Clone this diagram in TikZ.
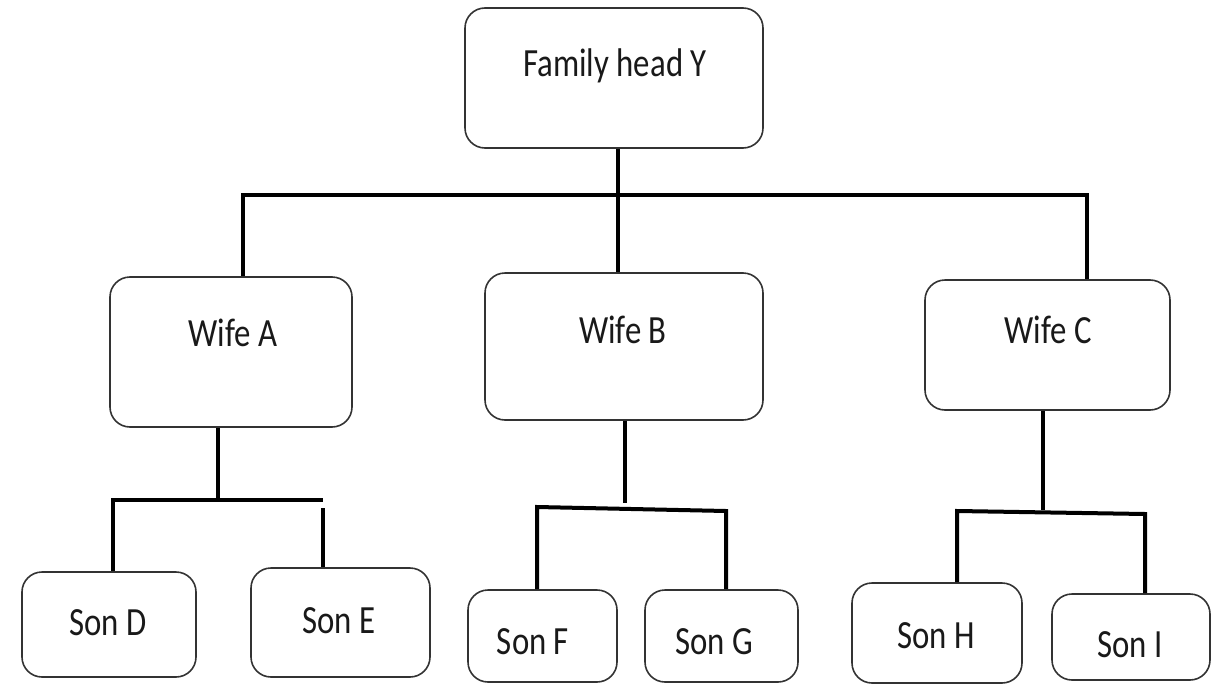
\documentclass[tikz,border=0pt]{standalone}
\usepackage{fontspec}
\setmainfont[FakeStretch=0.82]{Carlito}
\usetikzlibrary{calc}
\begin{document}
\begin{tikzpicture}[x=1pt,y=-1pt,
  box/.style={draw=black!80, line width=1.6pt, rounded corners=20pt, fill=white, inner sep=0pt},
  lbl/.style={font=\fontsize{40}{44}\selectfont, inner sep=0pt, anchor=base, text=black!90},
  conn/.style={line width=4pt, black}]
\useasboundingbox[fill=white] (0,0) rectangle (1225,685);
% boxes
\node[box, minimum width=298pt, minimum height=140pt] (Y) at (614,78) {};
\node[box, minimum width=242pt, minimum height=150pt] (A) at (231,352) {};
\node[box, minimum width=278pt, minimum height=147pt] (B) at (624,346.5) {};
\node[box, minimum width=245pt, minimum height=130pt] (C) at (1047.5,345) {};
\node[box, minimum width=174pt, minimum height=105pt] (D) at (109,624.5) {};
\node[box, minimum width=179pt, minimum height=109pt] (E) at (340.5,622.5) {};
\node[box, minimum width=149pt, minimum height=92pt] (F) at (542.5,636) {};
\node[box, minimum width=153pt, minimum height=92pt] (G) at (721.5,636) {};
\node[box, minimum width=170pt, minimum height=100pt] (H) at (937,633) {};
\node[box, minimum width=158pt, minimum height=86pt] (I) at (1131,637) {};
% labels
\node[lbl] (tY) at (615,76) {Family head Y};
\node[lbl] (tA) at (233,346) {Wife A};
\node[lbl] (tB) at (623,343) {Wife B};
\node[lbl] (tC) at (1048,343) {Wife C};
\node[lbl] (tD) at (108,635) {Son D};
\node[lbl] (tE) at (339,633) {Son E};
\node[lbl] (tF) at (533,654) {Son F};
\node[lbl] (tG) at (714,654) {Son G};
\node[lbl] (tH) at (936,648) {Son H};
\node[lbl] (tI) at (1130,657) {Son I};
% top level connectors
\coordinate (jY) at (618,195);
\coordinate (yl) at (243,195);
\coordinate (yr) at (1087,195);
\draw[conn] (jY |- Y.south) -- (jY |- B.north);
\draw[conn] (yl |- A.north) -- (yl) -- (yr) -- (yr |- C.north);
% wife A
\coordinate (aj) at (218,500);
\coordinate (al) at (113,500);
\coordinate (ar) at (323,500);
\draw[conn] (aj |- A.south) -- (aj);
\draw[conn] (al |- D.north) -- (al) -- (ar);
\draw[conn] ($(ar)+(0,8)$) -- (ar |- E.north);
% wife B
\coordinate (bj) at (625,503);
\coordinate (bl) at (537,507);
\coordinate (br) at (726,511);
\draw[conn] (bj |- B.south) -- (bj);
\draw[conn] (bl |- F.north) -- (bl) -- (br) -- (br |- G.north);
% wife C
\coordinate (cj) at (1043,510);
\coordinate (cl) at (957,511);
\coordinate (cr) at (1145,514);
\draw[conn] (cj |- C.south) -- (cj);
\draw[conn] (cl |- H.north) -- (cl) -- (cr) -- (cr |- I.north);
\end{tikzpicture}
\end{document}
